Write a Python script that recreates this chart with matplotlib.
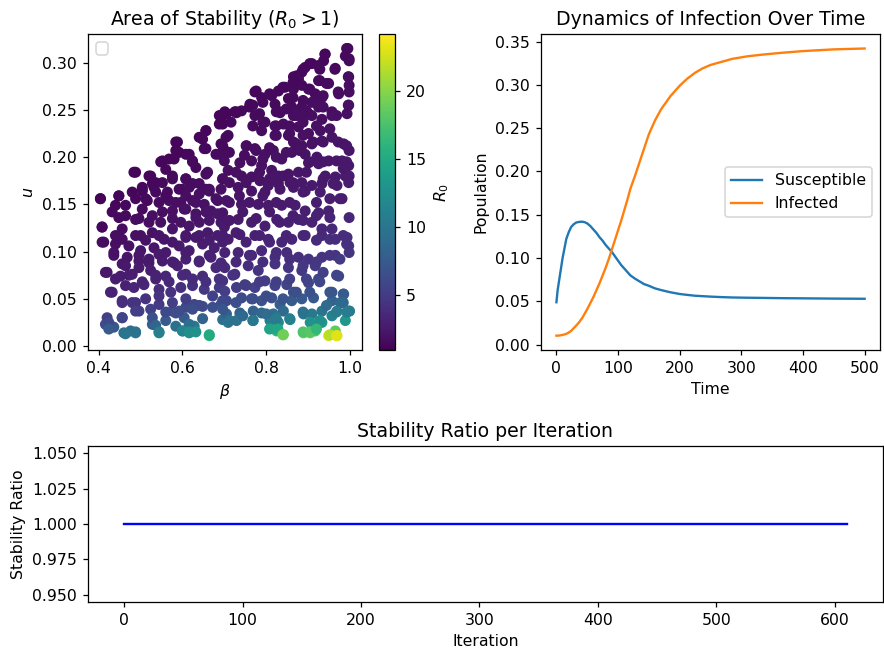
import matplotlib
matplotlib.use("Agg")
import matplotlib.pyplot as plt
import numpy as np

beta_a = [
    0.692, 0.995, 0.989, 0.998, 0.941, 0.937, 0.909, 0.893, 0.885, 0.925, 0.965, 0.865, 0.877,
    0.925, 0.949, 0.997, 0.998, 0.773, 0.789, 0.813, 0.829, 0.845, 0.853, 0.865, 0.885, 0.901,
    0.917, 0.933, 0.973, 0.998, 0.761, 0.741, 0.725, 0.701, 0.821, 0.861, 0.885, 0.909, 0.925,
    0.957, 0.997, 0.833, 0.873, 0.901,
    0.688, 0.696, 0.656, 0.648, 0.588, 0.692, 0.592, 0.580, 0.616, 0.624, 0.632, 0.652, 0.688,
    0.700, 0.552, 0.560, 0.576, 0.488, 0.520, 0.536, 0.504, 0.608, 0.624, 0.656, 0.696, 0.656,
    0.600,
    0.705, 0.729, 0.773, 0.797, 0.833, 0.865, 0.889, 0.909, 0.933, 0.957, 0.993, 0.709, 0.789,
    0.821, 0.841, 0.877, 0.901, 0.929, 0.957, 0.985, 0.998, 0.821, 0.853, 0.865, 0.885, 0.909,
    0.933, 0.753, 0.773, 0.797, 0.817, 0.837, 0.861, 0.893, 0.921, 0.949, 0.981, 0.997, 0.701,
    0.737, 0.765, 0.789, 0.813, 0.829, 0.853, 0.877, 0.901, 0.925, 0.941, 0.965, 0.989, 0.709,
    0.741, 0.765, 0.785, 0.805, 0.829, 0.857, 0.885, 0.909, 0.933, 0.969, 0.997,
    0.404, 0.504, 0.532, 0.564, 0.592, 0.616, 0.640, 0.664, 0.692, 0.448, 0.488, 0.516, 0.544,
    0.568, 0.596, 0.624, 0.652, 0.684, 0.440, 0.464, 0.504, 0.576, 0.604, 0.632, 0.668, 0.696,
    0.448, 0.488, 0.520, 0.548, 0.576, 0.596, 0.616, 0.640, 0.664, 0.692, 0.408, 0.456, 0.500,
    0.528, 0.556, 0.608, 0.632, 0.660, 0.684, 0.700, 0.408, 0.440, 0.472, 0.500, 0.532, 0.560,
    0.592, 0.616, 0.648, 0.676, 0.696, 0.436, 0.468, 0.496, 0.520, 0.552, 0.580, 0.608, 0.640,
    0.668, 0.692,
    0.733, 0.765, 0.797, 0.833, 0.865, 0.893, 0.929, 0.981, 0.705, 0.741, 0.781, 0.805, 0.837,
    0.869, 0.893, 0.925, 0.949, 0.701, 0.733, 0.765, 0.797, 0.825, 0.853, 0.877, 0.909, 0.933,
    0.957, 0.993, 0.709, 0.737, 0.773, 0.805, 0.837, 0.861, 0.893, 0.933, 0.965, 0.997, 0.701,
    0.733, 0.765, 0.789, 0.821, 0.849, 0.877, 0.901, 0.933, 0.965, 0.998,
    0.420, 0.456, 0.452, 0.480, 0.496, 0.524, 0.536, 0.560, 0.588, 0.608, 0.648, 0.680, 0.696,
    0.428, 0.464, 0.484, 0.508, 0.544, 0.572, 0.596, 0.624, 0.652, 0.688, 0.456, 0.480, 0.496,
    0.524, 0.544, 0.576, 0.608, 0.628, 0.648, 0.672, 0.692, 0.420, 0.456, 0.416, 0.436, 0.460,
    0.476, 0.488, 0.528, 0.544, 0.560, 0.584, 0.584, 0.604, 0.600, 0.616, 0.628, 0.616, 0.696,
    0.664,
    0.701, 0.725, 0.757, 0.781, 0.821, 0.853, 0.885, 0.917, 0.973, 0.701, 0.729, 0.749, 0.773,
    0.797, 0.821, 0.849, 0.865, 0.901, 0.925, 0.957, 0.985, 0.705, 0.741, 0.765, 0.789, 0.813,
    0.833, 0.861, 0.885, 0.913, 0.957, 0.977, 0.705, 0.737, 0.769, 0.789, 0.817, 0.841, 0.889,
    0.909, 0.933, 0.969, 0.998, 0.709, 0.729, 0.769, 0.809, 0.829, 0.857, 0.905, 0.933, 0.957,
    0.989, 0.825, 0.841, 0.889, 0.905, 0.917, 0.949, 0.965, 0.969,
]
u_a = [
    0.244, 0.315, 0.307, 0.302, 0.309, 0.302, 0.299, 0.295, 0.290, 0.297, 0.294, 0.285, 0.283,
    0.281, 0.278, 0.285, 0.276, 0.269, 0.263, 0.265, 0.270, 0.274, 0.262, 0.272, 0.276, 0.272,
    0.267, 0.263, 0.267, 0.269, 0.256, 0.249, 0.248, 0.248, 0.256, 0.253, 0.253, 0.258, 0.253,
    0.248, 0.255, 0.248, 0.246, 0.246,
    0.244, 0.235, 0.228, 0.219, 0.216, 0.214, 0.205, 0.198, 0.203, 0.196, 0.189, 0.209, 0.203,
    0.196, 0.196, 0.187, 0.180, 0.184, 0.180, 0.173, 0.168, 0.177, 0.172, 0.182, 0.177, 0.166,
    0.166,
    0.246, 0.247, 0.244, 0.237, 0.247, 0.244, 0.242, 0.244, 0.240, 0.244, 0.246, 0.223, 0.228,
    0.233, 0.235, 0.232, 0.225, 0.228, 0.221, 0.214, 0.207, 0.223, 0.223, 0.216, 0.212, 0.214,
    0.217, 0.212, 0.209, 0.203, 0.207, 0.198, 0.205, 0.203, 0.200, 0.196, 0.196, 0.191, 0.207,
    0.194, 0.196, 0.191, 0.186, 0.180, 0.182, 0.184, 0.194, 0.193, 0.180, 0.179, 0.180, 0.186,
    0.180, 0.179, 0.175, 0.170, 0.172, 0.173, 0.173, 0.170, 0.172, 0.170, 0.173,
    0.156, 0.164, 0.168, 0.163, 0.166, 0.168, 0.161, 0.164, 0.166, 0.159, 0.156, 0.154, 0.152,
    0.154, 0.152, 0.154, 0.150, 0.154, 0.149, 0.149, 0.145, 0.143, 0.145, 0.140, 0.143, 0.141,
    0.136, 0.134, 0.131, 0.131, 0.124, 0.131, 0.127, 0.131, 0.133, 0.131, 0.126, 0.124, 0.117,
    0.120, 0.113, 0.117, 0.115, 0.120, 0.117, 0.126, 0.110, 0.108, 0.106, 0.101, 0.104, 0.099,
    0.106, 0.101, 0.108, 0.104, 0.110, 0.096, 0.094, 0.090, 0.088, 0.090, 0.088, 0.092, 0.090,
    0.094, 0.088,
    0.168, 0.164, 0.163, 0.166, 0.168, 0.164, 0.163, 0.156, 0.154, 0.150, 0.150, 0.149, 0.149,
    0.149, 0.143, 0.141, 0.143, 0.129, 0.134, 0.131, 0.127, 0.134, 0.131, 0.134, 0.131, 0.124,
    0.124, 0.115, 0.113, 0.118, 0.117, 0.113, 0.110, 0.113, 0.117, 0.117, 0.113, 0.106, 0.099,
    0.099, 0.096, 0.101, 0.094, 0.099, 0.094, 0.092, 0.094, 0.096, 0.099,
    0.078, 0.087, 0.074, 0.076, 0.083, 0.080, 0.071, 0.074, 0.085, 0.076, 0.074, 0.083, 0.069,
    0.057, 0.064, 0.062, 0.065, 0.060, 0.057, 0.062, 0.064, 0.060, 0.062, 0.048, 0.046, 0.037,
    0.039, 0.044, 0.037, 0.041, 0.044, 0.042, 0.041, 0.044, 0.030, 0.030, 0.023, 0.020, 0.014,
    0.016, 0.014, 0.023, 0.014, 0.027, 0.035, 0.021, 0.030, 0.016, 0.014, 0.021, 0.023, 0.028,
    0.011,
    0.083, 0.076, 0.085, 0.080, 0.087, 0.083, 0.080, 0.085, 0.074, 0.058, 0.062, 0.065, 0.062,
    0.069, 0.064, 0.065, 0.057, 0.067, 0.071, 0.057, 0.055, 0.048, 0.051, 0.050, 0.048, 0.051,
    0.044, 0.048, 0.050, 0.051, 0.048, 0.046, 0.034, 0.035, 0.037, 0.035, 0.034, 0.037, 0.034,
    0.034, 0.037, 0.037, 0.037, 0.025, 0.027, 0.027, 0.027, 0.025, 0.028, 0.025, 0.025, 0.032,
    0.027, 0.016, 0.012, 0.014, 0.014, 0.016, 0.011, 0.016, 0.011,
]
beta_b = [
    0.992, 0.998, 0.940,
    0.904, 0.888, 0.872, 0.928, 0.964, 0.996, 0.928, 0.944,
    0.776, 0.808, 0.840, 0.864, 0.904, 0.936, 0.972, 0.864, 0.888, 0.920, 0.792, 0.768,
    0.760, 0.784, 0.824, 0.848, 0.872, 0.896, 0.936, 0.968, 0.996, 0.728, 0.696, 0.688, 0.716,
    0.656, 0.640, 0.704, 0.696, 0.768, 0.792, 0.824, 0.856, 0.888, 0.920, 0.952, 0.824, 0.856,
    0.888, 0.912, 0.872, 0.936, 0.972, 0.992, 0.584,
    0.584, 0.568, 0.608, 0.624, 0.656, 0.680, 0.712, 0.752, 0.748, 0.776, 0.808, 0.792, 0.824,
    0.848, 0.880, 0.904, 0.936, 0.968, 0.992, 0.548,
    0.484, 0.524, 0.528, 0.552, 0.576, 0.608, 0.640, 0.660, 0.696, 0.728, 0.712, 0.752, 0.784,
    0.808, 0.840, 0.864, 0.896, 0.936, 0.960, 0.984, 0.998,
    0.404, 0.448, 0.480, 0.504, 0.512, 0.536, 0.560, 0.584, 0.608, 0.632, 0.664, 0.680, 0.712,
    0.736, 0.760, 0.792, 0.824, 0.856, 0.888, 0.920, 0.952, 0.976,
    0.432, 0.464, 0.496, 0.528, 0.552, 0.576, 0.608, 0.632, 0.656, 0.684, 0.712, 0.744, 0.776,
    0.808, 0.832, 0.864, 0.888, 0.920, 0.952, 0.998, 0.408,
    0.412, 0.440, 0.456, 0.488, 0.512, 0.544, 0.576, 0.608, 0.640, 0.664, 0.696, 0.728, 0.752,
    0.784, 0.808, 0.848, 0.888, 0.920, 0.952, 0.984, 0.992,
    0.436, 0.464, 0.496, 0.520, 0.544, 0.576, 0.608, 0.640, 0.664, 0.696, 0.728, 0.760, 0.792,
    0.824, 0.856, 0.888, 0.920, 0.952, 0.976,
    0.416, 0.440, 0.472, 0.504, 0.536, 0.568, 0.600, 0.624, 0.656, 0.688, 0.720, 0.752, 0.784,
    0.824, 0.856, 0.896, 0.928, 0.968, 0.936,
    0.432, 0.456, 0.488, 0.512, 0.544, 0.576, 0.608, 0.640, 0.672, 0.696, 0.728, 0.768, 0.800,
    0.840, 0.872, 0.904, 0.952, 0.984, 0.944, 0.984,
    0.424, 0.456, 0.488, 0.528, 0.560, 0.592, 0.624, 0.648, 0.696, 0.712, 0.744, 0.768, 0.800,
    0.824, 0.856, 0.888, 0.928, 0.968, 0.992, 0.999,
    0.424, 0.464, 0.488, 0.536, 0.544, 0.600, 0.616, 0.632, 0.664, 0.808, 0.828, 0.840, 0.888,
    0.904, 0.920, 0.952, 0.968,
]
u_b = [
    0.315, 0.304, 0.309,
    0.299, 0.293, 0.286, 0.293, 0.293, 0.285, 0.281, 0.278,
    0.270, 0.267, 0.274, 0.279, 0.272, 0.265, 0.269, 0.263, 0.260, 0.258, 0.258, 0.255,
    0.253, 0.246, 0.248, 0.251, 0.244, 0.249, 0.253, 0.244, 0.255, 0.248, 0.244, 0.235, 0.237,
    0.228, 0.221, 0.221, 0.212, 0.233, 0.237, 0.233, 0.233, 0.237, 0.233, 0.230, 0.223, 0.225,
    0.223, 0.216, 0.214, 0.216, 0.216, 0.212, 0.216,
    0.207, 0.198, 0.203, 0.195, 0.209, 0.203, 0.205, 0.212, 0.202, 0.207, 0.210, 0.198, 0.200,
    0.205, 0.207, 0.195, 0.195, 0.196, 0.195, 0.195,
    0.184, 0.180, 0.172, 0.173, 0.177, 0.177, 0.172, 0.184, 0.177, 0.184, 0.173, 0.173, 0.184,
    0.177, 0.180, 0.173, 0.184, 0.177, 0.172, 0.188, 0.180,
    0.156, 0.159, 0.163, 0.166, 0.156, 0.163, 0.159, 0.152, 0.159, 0.152, 0.166, 0.156, 0.152,
    0.159, 0.152, 0.159, 0.152, 0.152, 0.163, 0.152, 0.156, 0.156,
    0.142, 0.138, 0.135, 0.138, 0.142, 0.135, 0.145, 0.136, 0.142, 0.140, 0.133, 0.142, 0.135,
    0.142, 0.131, 0.138, 0.133, 0.138, 0.136, 0.136, 0.126,
    0.110, 0.117, 0.113, 0.117, 0.112, 0.117, 0.110, 0.115, 0.117, 0.112, 0.117, 0.120, 0.110,
    0.117, 0.110, 0.117, 0.117, 0.112, 0.113, 0.117, 0.108,
    0.099, 0.085, 0.096, 0.092, 0.097, 0.089, 0.099, 0.089, 0.096, 0.085, 0.089, 0.096, 0.089,
    0.099, 0.092, 0.085, 0.089, 0.096, 0.092,
    0.078, 0.071, 0.075, 0.068, 0.075, 0.068, 0.075, 0.071, 0.068, 0.071, 0.075, 0.064, 0.068,
    0.068, 0.071, 0.071, 0.068, 0.075, 0.078,
    0.057, 0.046, 0.046, 0.050, 0.053, 0.046, 0.050, 0.043, 0.053, 0.048, 0.046, 0.050, 0.053,
    0.050, 0.057, 0.057, 0.057, 0.055, 0.043, 0.046,
    0.025, 0.030, 0.037, 0.030, 0.036, 0.037, 0.039, 0.029, 0.039, 0.027, 0.032, 0.027, 0.034,
    0.029, 0.029, 0.036, 0.027, 0.036, 0.036, 0.037,
    0.018, 0.013, 0.015, 0.022, 0.015, 0.016, 0.015, 0.015, 0.012, 0.018, 0.018, 0.012, 0.015,
    0.015, 0.018, 0.012, 0.011,
]
beta = np.array(beta_a + beta_b)
u = np.array(u_a + u_b)
gamma = 0.01
R0 = beta / (2 * (u + gamma))

# SIR-type trajectory
time = [0, 2, 5, 10, 16, 20, 24, 28, 32, 37, 42, 46, 50, 55, 60, 65, 70, 75, 80, 85, 90, 95,
        100, 105, 110, 115, 120, 128, 135, 142, 150, 160, 170, 185, 200, 212, 225, 237, 250,
        265, 285, 310, 335, 365, 400, 450, 500]
susceptible = [0.049, 0.063, 0.077, 0.100, 0.122, 0.130, 0.136, 0.139, 0.141, 0.1418, 0.142,
               0.1414, 0.140, 0.137, 0.133, 0.129, 0.124, 0.120, 0.115, 0.111, 0.107, 0.102,
               0.097, 0.092, 0.088, 0.084, 0.080, 0.076, 0.073, 0.070, 0.068, 0.065, 0.063,
               0.0605, 0.0585, 0.0575, 0.0565, 0.056, 0.0555, 0.055, 0.0545, 0.0542, 0.054,
               0.0537, 0.0535, 0.0532, 0.053]
infected = [0.0104, 0.0104, 0.0106, 0.0112, 0.0125, 0.014, 0.016, 0.019, 0.022, 0.026, 0.031,
            0.036, 0.041, 0.048, 0.055, 0.063, 0.071, 0.080, 0.089, 0.099, 0.110, 0.121,
            0.132, 0.143, 0.155, 0.167, 0.180, 0.196, 0.211, 0.226, 0.243, 0.259, 0.272,
            0.287, 0.299, 0.307, 0.314, 0.319, 0.323, 0.326, 0.330, 0.333, 0.335, 0.337,
            0.339, 0.341, 0.342]

# every iteration came out stable
n_iter = 611
stability_ratio = [1.0] * n_iter

fig = plt.figure(figsize=(884 / 113, 654 / 113), dpi=113)
ax1 = fig.add_axes([0.0995, 0.4648, 0.310, 0.483])
cax = fig.add_axes([0.4287, 0.4648, 0.0181, 0.483])
ax2 = fig.add_axes([0.612, 0.4648, 0.3835, 0.483])
ax3 = fig.add_axes([0.0995, 0.0795, 0.899, 0.2385])

sc = ax1.scatter(beta, u, c=R0, cmap='viridis', vmin=0.96, vmax=24.2)
cb = fig.colorbar(sc, cax=cax)
cb.set_label('$R_0$')
ax1.set_xlabel(r'$\beta$')
ax1.set_ylabel('$u$')
ax1.set_title('Area of Stability ($R_0 > 1$)')
ax1.legend(handles=[], loc='upper left')

ax2.plot(time, susceptible, label='Susceptible')
ax2.plot(time, infected, label='Infected')
ax2.set_xlabel('Time')
ax2.set_ylabel('Population')
ax2.set_title('Dynamics of Infection Over Time')
ax2.legend(loc='center right')

ax3.plot(range(n_iter), stability_ratio, color='b')
ax3.set_yticks([0.95, 0.975, 1.0, 1.025, 1.05])
ax3.set_ylim(0.945, 1.055)
ax3.set_xlabel('Iteration')
ax3.set_ylabel('Stability Ratio')
ax3.set_title('Stability Ratio per Iteration')

fig.savefig('out.png', dpi=113)
